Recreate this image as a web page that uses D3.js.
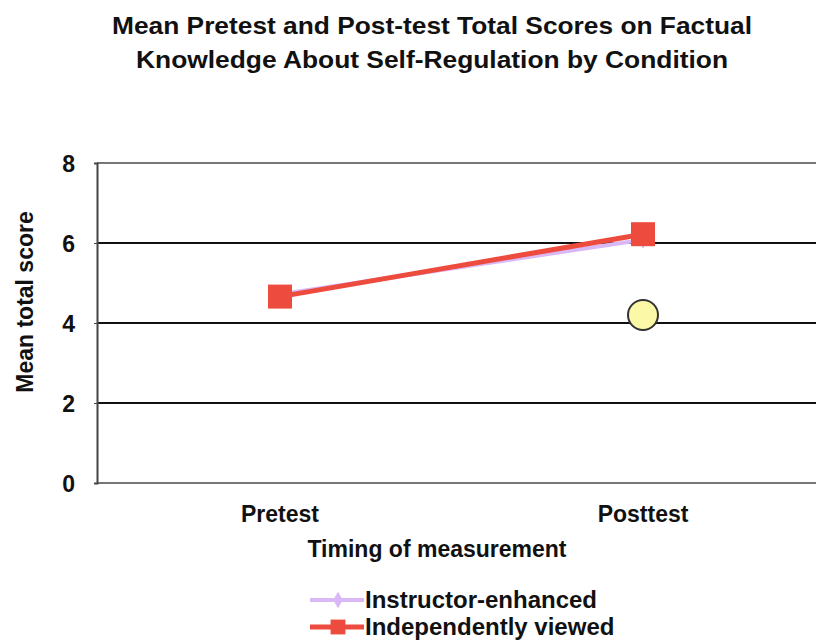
<!DOCTYPE html>
<html>
<head>
<meta charset="utf-8">
<script src="https://cdn.jsdelivr.net/npm/d3@7.9.0/dist/d3.min.js"></script>
<style>
  body { margin: 0; background: #fff; }
  svg text { font-family: "Liberation Sans", Arial, sans-serif; font-weight: bold; fill: #111; }
</style>
</head>
<body>
<svg width="816" height="640"></svg>
<script>
const timings = ['Pretest', 'Posttest'];
const instructorScores = [4.72, 6.08];
const independentScores = [4.66, 6.22];
const extraScores = [null, 4.2];
const yTicks = [0, 2, 4, 6, 8];

const svg = d3.select('svg');

const x = d3.scalePoint().domain(timings).range([280, 643]);
const y = d3.scaleLinear().domain([0, 8]).range([483, 163]);

// title
svg.append('text').attr('x', 432).attr('y', 34).attr('text-anchor', 'middle')
  .attr('font-size', 24).attr('textLength', 640).attr('lengthAdjust', 'spacingAndGlyphs')
  .text('Mean Pretest and Post-test Total Scores on Factual');
svg.append('text').attr('x', 432).attr('y', 68).attr('text-anchor', 'middle')
  .attr('font-size', 24).attr('textLength', 592).attr('lengthAdjust', 'spacingAndGlyphs')
  .text('Knowledge About Self-Regulation by Condition');

// gridlines
svg.append('g').selectAll('line').data(yTicks).join('line')
  .attr('x1', 97).attr('x2', 816)
  .attr('y1', d => y(d)).attr('y2', d => y(d))
  .attr('stroke', d => (d === 0 || d === 8) ? '#777' : '#111')
  .attr('stroke-width', 2);

// y axis
const yAxis = svg.append('g').attr('transform', 'translate(97,0)')
  .call(d3.axisLeft(y).tickValues(yTicks).tickSize(3).tickPadding(19));
yAxis.select('.domain').attr('stroke', '#444').attr('stroke-width', 2);
yAxis.selectAll('.tick line').attr('stroke', '#444');
yAxis.selectAll('text').attr('font-size', 23).attr('font-family', '"Liberation Sans", Arial, sans-serif')
  .attr('font-weight', 'bold').attr('fill', '#111').attr('dy', '0.36em');

// x category labels
svg.append('g').selectAll('text').data(timings).join('text')
  .attr('x', d => x(d)).attr('y', 522).attr('text-anchor', 'middle')
  .attr('font-size', 23).text(d => d);

// axis titles
svg.append('text').attr('x', 437).attr('y', 557).attr('text-anchor', 'middle')
  .attr('font-size', 23).text('Timing of measurement');
svg.append('text').attr('transform', 'translate(33,302) rotate(-90)')
  .attr('text-anchor', 'middle').attr('font-size', 23).text('Mean total score');

const line = d3.line().x((d, i) => x(timings[i])).y(d => y(d));

// instructor-enhanced
svg.append('path').datum(instructorScores).attr('d', line)
  .attr('fill', 'none').attr('stroke', '#d9b8f5').attr('stroke-width', 4);
svg.append('g').selectAll('path').data(instructorScores).join('path')
  .attr('transform', (d, i) => `translate(${x(timings[i])},${y(d)})`)
  .attr('d', d3.symbol(d3.symbolDiamond, 90)).attr('fill', '#d9b8f5');

// independently viewed
svg.append('path').datum(independentScores).attr('d', line)
  .attr('fill', 'none').attr('stroke', '#ee4b3f').attr('stroke-width', 5);
svg.append('g').selectAll('rect').data(independentScores).join('rect')
  .attr('x', (d, i) => x(timings[i]) - 12).attr('y', d => y(d) - 12)
  .attr('width', 24).attr('height', 24).attr('fill', '#ee4b3f');

// third condition marker
svg.append('g').selectAll('circle')
  .data(extraScores.map((v, i) => ({ v, t: timings[i] })).filter(d => d.v !== null))
  .join('circle')
  .attr('cx', d => x(d.t)).attr('cy', d => y(d.v)).attr('r', 15)
  .attr('fill', '#fbf8a8').attr('stroke', '#333').attr('stroke-width', 2);

// legend
const legendItems = [
  { label: 'Instructor-enhanced', color: '#d9b8f5', shape: 'diamond' },
  { label: 'Independently viewed', color: '#ee4b3f', shape: 'square' }
];
const lg = svg.append('g').selectAll('g').data(legendItems).join('g')
  .attr('transform', (d, i) => `translate(310,${600 + i * 27})`);
lg.append('line').attr('x1', 0).attr('x2', 54)
  .attr('stroke', d => d.color).attr('stroke-width', d => d.shape === 'square' ? 5 : 4);
lg.append('path').attr('transform', 'translate(28,0)')
  .attr('d', d => d.shape === 'square' ? d3.symbol(d3.symbolSquare, 220)() : d3.symbol(d3.symbolDiamond, 80)())
  .attr('fill', d => d.color);
lg.append('text').attr('x', 55).attr('y', 8).attr('font-size', 24).text(d => d.label);
</script>
</body>
</html>
